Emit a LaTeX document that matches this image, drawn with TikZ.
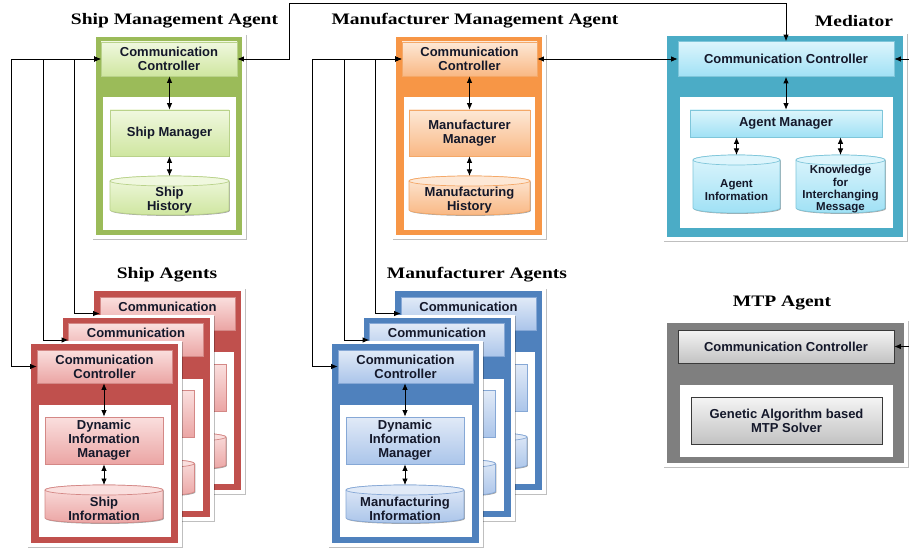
\documentclass[tikz,border=0pt]{standalone}
\usepackage{fontspec}
\setsansfont{Liberation Sans}
\newfontfamily\titlefont[FakeStretch=1.22]{Liberation Serif}
\usetikzlibrary{arrows.meta,shadows}
\definecolor{txt}{HTML}{14182A}
% frames
\definecolor{gframe}{HTML}{9BBB59}
\definecolor{oframe}{HTML}{F79646}
\definecolor{tframe}{HTML}{4BACC6}
\definecolor{rframe}{HTML}{C0504D}
\definecolor{bframe}{HTML}{4F81BD}
\definecolor{kframe}{HTML}{7F7F7F}
% boxes
\definecolor{gtop}{HTML}{F0F8DF}\definecolor{gbot}{HTML}{CFE6A0}\definecolor{gline}{HTML}{B9D28A}
\definecolor{otop}{HTML}{FDE8D6}\definecolor{obot}{HTML}{F9B884}\definecolor{oline}{HTML}{F4A868}
\definecolor{ttop}{HTML}{DDF5FC}\definecolor{tbot}{HTML}{A0E1F5}\definecolor{tline}{HTML}{7FC6DA}
\definecolor{rtop}{HTML}{FADFDE}\definecolor{rbot}{HTML}{EBA5A4}\definecolor{rline}{HTML}{D48886}
\definecolor{btop}{HTML}{E1EAF7}\definecolor{bbot}{HTML}{ABC5EA}\definecolor{bline}{HTML}{86A8D6}
\definecolor{ktop}{HTML}{F4F4F4}\definecolor{kbot}{HTML}{C2C2C2}\definecolor{kline}{HTML}{3A3A3A}
\newcommand\boxfont{\sffamily\bfseries\fontsize{13}{14}\selectfont}
\newcommand\smallboxfont{\sffamily\bfseries\fontsize{11.5}{12.3}\selectfont}
\tikzset{
 tip/.tip={Latex[length=6.5pt,width=5.5pt]},
 biarrow/.style={tip-tip, line width=0.8pt},
 inarrow/.style={-tip, line width=0.8pt},
 bshadow/.style={drop shadow={shadow xshift=0.9pt,shadow yshift=-0.9pt,opacity=0.35,fill=black}},
 fshadow/.style={drop shadow={shadow xshift=1.3pt,shadow yshift=-1.3pt,opacity=0.25,fill=black}},
 box/.style={draw, line width=0.7pt, font=\boxfont, align=center, inner sep=1pt, text=txt, bshadow},
 gbox/.style={box, draw=gline, top color=gtop, bottom color=gbot},
 obox/.style={box, draw=oline, top color=otop, bottom color=obot},
 tbox/.style={box, draw=tline, top color=ttop, bottom color=tbot},
 rbox/.style={box, draw=rline, top color=rtop, bottom color=rbot},
 bbox/.style={box, draw=bline, top color=btop, bottom color=bbot},
 kbox/.style={box, draw=kline, top color=ktop, bottom color=kbot},
 gcylbody/.style={draw=gline, line width=0.7pt, top color=gtop, bottom color=gbot, bshadow},
 gcyltop/.style={draw=gline, line width=0.7pt, fill=gtop},
 ocylbody/.style={draw=oline, line width=0.7pt, top color=otop, bottom color=obot, bshadow},
 ocyltop/.style={draw=oline, line width=0.7pt, fill=otop},
 tcylbody/.style={draw=tline, line width=0.7pt, top color=ttop, bottom color=tbot, bshadow},
 tcyltop/.style={draw=tline, line width=0.7pt, fill=ttop},
 rcylbody/.style={draw=rline, line width=0.7pt, top color=rtop, bottom color=rbot, bshadow},
 rcyltop/.style={draw=rline, line width=0.7pt, fill=rtop},
 bcylbody/.style={draw=bline, line width=0.7pt, top color=btop, bottom color=bbot, bshadow},
 bcyltop/.style={draw=bline, line width=0.7pt, fill=btop},
 cylnode/.style={inner sep=0pt, outer sep=0pt},
 cyltext/.style={font=\boxfont, align=center, text=txt, inner sep=0pt},
 title/.style={font=\titlefont\bfseries\fontsize{16}{18}\selectfont, inner sep=0pt},
}
% #1 cx, #2 cy, #3 w, #4 h, #5 style prefix
\newcommand\cylshape[5]{%
\begin{scope}[shift={(#1,#2)}]
 \pgfmathsetmacro\cylhw{#3/2}%
 \pgfmathsetmacro\cylhh{#4/2-5}%
 \path[#5cylbody] (-\cylhw pt,\cylhh pt) -- (-\cylhw pt,-\cylhh pt)
   arc[start angle=180,end angle=360,x radius=\cylhw pt,y radius=5pt]
   -- (\cylhw pt,\cylhh pt)
   arc[start angle=0,end angle=180,x radius=\cylhw pt,y radius=5pt] -- cycle;
 \path[#5cyltop] (0pt,\cylhh pt) ellipse[x radius=\cylhw pt,y radius=5pt];
\end{scope}}
% #1 prefix, #2 dx, #3 dy, #4 frame colour, #5 box style, #6 db text, #7 cyl prefix,
% #8 controller text, #9 manager text
\newcommand\agentcard[9]{%
\begin{scope}[shift={(#2,#3)}]
 \fill[white,fshadow] (27,341) rectangle (182,547);
 \fill[#4] (31,344) rectangle (178,543);
 \fill[white] (39,405) rectangle (171,537);
 \node[#5,minimum width=135pt,minimum height=33pt] (#1cc) at (104.5,366.5) {#8};
 \node[#5,minimum width=118pt,minimum height=47pt] (#1dim) at (104,440.5) {#9};
 \cylshape{104}{504}{118}{38}{#7}
 \node[cylnode,minimum width=118pt,minimum height=38pt] (#1db) at (104,504) {};
 \node[cyltext] (#1dbt) at (104,508.5) {#6};
 \draw[biarrow] (#1dim.north |- #1cc.south) -- (#1dim.north);
 \draw[biarrow] (#1dim.south) -- (#1db.north);
\end{scope}}
\newcommand\backcc{Communication\\\phantom{Controller}}
\begin{document}
\begin{tikzpicture}[x=1pt,y=-1pt]
\useasboundingbox[fill=white] (0,0) rectangle (909,548);

% ---------- titles
\node[title] (tsma) at (174.5,21) {Ship Management Agent};
\node[title] (tmma) at (475,21) {Manufacturer Management Agent};
\node[title] (tmed) at (854,21) {Mediator};
\node[title] (tsa) at (167,275) {Ship Agents};
\node[title] (tma) at (477,275) {Manufacturer Agents};
\node[title] (tmtp) at (782,303) {MTP Agent};

% ---------- Ship Management Agent
\fill[white,fshadow] (92,34) rectangle (246,239);
\fill[gframe] (96,37) rectangle (242,235);
\fill[white] (103,97) rectangle (236,230);
\node[gbox,minimum width=136pt,minimum height=34pt] (smacc) at (169,59) {Communication\\Controller};
\node[gbox,minimum width=119pt,minimum height=46pt] (smam) at (169.5,133) {Ship Manager};
\cylshape{169.5}{195.5}{119}{39}{g}
\node[cylnode,minimum width=119pt,minimum height=39pt] (smadb) at (169.5,195.5) {};
\node[cyltext] (smadbt) at (169.5,200) {Ship\\History};
\draw[biarrow] (smam.north |- smacc.south) -- (smam.north);
\draw[biarrow] (smam.south) -- (smadb.north);

% ---------- Manufacturer Management Agent
\fill[white,fshadow] (392,34) rectangle (546,239);
\fill[oframe] (396,37) rectangle (542,235);
\fill[white] (404,97) rectangle (535,230);
\node[obox,minimum width=135pt,minimum height=34pt] (mmacc) at (469.5,59) {Communication\\Controller};
\node[obox,minimum width=121pt,minimum height=46pt] (mmam) at (469.5,133) {Manufacturer\\Manager};
\cylshape{469.5}{195.5}{121}{39}{o}
\node[cylnode,minimum width=121pt,minimum height=39pt] (mmadb) at (469.5,195.5) {};
\node[cyltext] (mmadbt) at (469.5,200) {Manufacturing\\History};
\draw[biarrow] (mmacc.south) -- (mmam.north);
\draw[biarrow] (mmam.south) -- (mmadb.north);

% ---------- Mediator
\fill[white,fshadow] (663,33) rectangle (907,241);
\fill[tframe] (667,36) rectangle (903,237);
\fill[white] (680,97) rectangle (893,228);
\node[tbox,minimum width=216pt,minimum height=35pt] (medcc) at (786,59) {Communication Controller};
\node[tbox,minimum width=192pt,minimum height=27pt] (medam) at (786,123.5) {Agent Manager};
\cylshape{736.5}{184}{87}{58}{t}
\node[cylnode,minimum width=87pt,minimum height=58pt] (meddb1) at (736.5,184) {};
\node[cyltext,font=\smallboxfont] (meddb1t) at (736.5,190) {Agent\\Information};
\cylshape{840.5}{184}{89}{58}{t}
\node[cylnode,minimum width=89pt,minimum height=58pt] (meddb2) at (840.5,184) {};
\node[cyltext,font=\smallboxfont] (meddb2t) at (840.5,189.5) {Knowledge\\for\\Interchanging\\Message};
\draw[biarrow] (medcc.south) -- (medam.north);
\draw[biarrow] (meddb1.north |- medam.south) -- (meddb1.north);
\draw[biarrow] (meddb2.north |- medam.south) -- (meddb2.north);

% ---------- MTP Agent
\fill[white,fshadow] (663,320) rectangle (908,467);
\fill[kframe] (667,323) rectangle (904,463);
\fill[white] (680,385) rectangle (893,457);
\node[kbox,minimum width=216pt,minimum height=33pt] (mtpcc) at (786,346.5) {Communication Controller};
\node[kbox,minimum width=191pt,minimum height=47pt] (mtpga) at (786.5,420.5) {Genetic Algorithm based\\MTP Solver};

% ---------- Ship Agents (back to front)
\agentcard{sa3}{63}{-53}{rframe}{rbox}{}{r}{\backcc}{}
\agentcard{sa2}{31.5}{-26.5}{rframe}{rbox}{}{r}{\backcc}{}
\agentcard{sa1}{0}{0}{rframe}{rbox}{Ship\\Information}{r}{Communication\\Controller}{Dynamic\\Information\\Manager}

% ---------- Manufacturer Agents (back to front)
\agentcard{ma3}{364}{-53}{bframe}{bbox}{}{b}{\backcc}{}
\agentcard{ma2}{332.5}{-26.5}{bframe}{bbox}{}{b}{\backcc}{}
\agentcard{ma1}{301}{0}{bframe}{bbox}{Manufacturing\\Information}{b}{Communication\\Controller}{Dynamic\\Information\\Manager}

% ---------- connectors
\coordinate (topbend) at (289,3);
\coordinate (medin) at (909,59);
\coordinate (mtpin) at (909,346.5);
\draw[biarrow] (smacc.east) -| (topbend) -| (medcc.north);
\draw[biarrow] (mmacc.east) -- (medcc.west);
\draw[inarrow] (medin) -- (medcc.east);
\draw[inarrow] (mtpin) -- (mtpcc.east);

\draw[biarrow] (sa1cc.west) -- ++(-25,0) |- (smacc.west);
\draw[biarrow] (sa2cc.west) -- ++(-25,0) |- (smacc.west);
\draw[biarrow] (sa3cc.west) -- ++(-25,0) |- (smacc.west);
\draw[biarrow] (ma1cc.west) -- ++(-25,0) |- (mmacc.west);
\draw[biarrow] (ma2cc.west) -- ++(-25,0) |- (mmacc.west);
\draw[biarrow] (ma3cc.west) -- ++(-25,0) |- (mmacc.west);
\end{tikzpicture}
\end{document}
